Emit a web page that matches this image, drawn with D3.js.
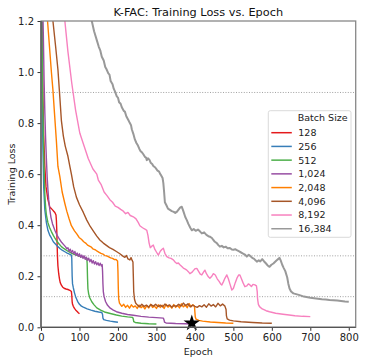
<!DOCTYPE html>
<html>
<head>
<meta charset="utf-8">
<script src="https://cdn.jsdelivr.net/npm/d3@7"></script>
<style>
  body { margin: 0; background: #fff; }
  svg { font-family: "DejaVu Sans", sans-serif; }
</style>
</head>
<body>
<svg width="366" height="363"></svg>
<script>
const batchLabels = ["128", "256", "512", "1,024", "2,048", "4,096", "8,192", "16,384"];
const xTicks = [0, 100, 200, 300, 400, 500, 600, 700, 800];
const yTicks = [0.0, 0.2, 0.4, 0.6, 0.8, 1.0, 1.2];
const targetLosses = [0.92, 0.28, 0.12];
const starPoint = [392, 0.016];

// [epoch, loss]
const loss128 = [[0,2.4],[1,1.6],[3,1.2],[5,0.9],[7,0.75],[10,0.63],[13,0.55],[18,0.5],[23,0.47],[27,0.465],[30,0.46],[33,0.455],[36,0.45],[39,0.44],[40,0.42],[41,0.38],[42,0.32],[43,0.27],[44,0.24],[46,0.21],[48,0.19],[50,0.175],[53,0.165],[56,0.158],[60,0.153],[65,0.15],[70,0.148],[75,0.145],[79,0.14],[80,0.125],[81,0.1],[82,0.09],[84,0.082],[87,0.074],[90,0.068],[94,0.062],[97,0.057],[100,0.053]];
const loss256 = [[0,2.4],[1,1.5],[2,1.15],[3,0.95],[4,0.8],[5,0.7],[7,0.55],[10,0.46],[14,0.41],[18,0.38],[23,0.36],[27,0.35],[32,0.335],[38,0.325],[44,0.316],[50,0.308],[56,0.301],[62,0.296],[68,0.291],[74,0.287],[79,0.283],[80,0.27],[81,0.2],[82,0.17],[84,0.155],[87,0.135],[90,0.12],[95,0.102],[100,0.09],[105,0.083],[110,0.079],[120,0.072],[130,0.067],[140,0.063],[150,0.06],[158,0.058],[160,0.05],[161,0.036],[163,0.03],[170,0.027],[180,0.024],[190,0.022],[200,0.02]];
const loss512 = [[0,2.4],[1,1.7],[2,1.3],[3,1.1],[4,0.95],[5,0.85],[6,0.76],[8,0.62],[10,0.52],[12,0.47],[14,0.44],[18,0.41],[22,0.392],[27,0.375],[32,0.36],[37,0.347],[42,0.336],[47,0.326],[53,0.316],[60,0.308],[70,0.298],[80,0.29],[90,0.284],[100,0.279],[110,0.274],[119,0.27],[120,0.25],[121,0.19],[122,0.15],[124,0.13],[127,0.115],[132,0.1],[138,0.088],[145,0.076],[155,0.067],[165,0.06],[180,0.054],[196,0.048],[210,0.044],[225,0.041],[238,0.039],[240,0.032],[241,0.022],[245,0.019],[260,0.016],[280,0.014],[300,0.013]];
const loss1024 = [[0,2.4],[2,1.6],[4,1.3],[6,1.15],[8,0.97],[10,0.84],[12,0.74],[14,0.66],[16,0.59],[18,0.54],[20,0.5],[23,0.46],[26,0.43],[30,0.405],[36,0.38],[42,0.36],[48,0.345],[54,0.332],[60,0.322],[64,0.315],[67,0.308],[70,0.312],[73,0.298],[76,0.306],[79,0.293],[82,0.301],[85,0.288],[88,0.297],[91,0.282],[94,0.291],[97,0.278],[100,0.288],[103,0.274],[106,0.283],[109,0.27],[112,0.28],[115,0.266],[118,0.275],[121,0.262],[124,0.271],[127,0.257],[130,0.266],[133,0.252],[136,0.261],[139,0.248],[142,0.257],[145,0.245],[148,0.253],[151,0.242],[154,0.251],[157,0.24],[159,0.246],[160,0.22],[161,0.17],[162,0.14],[164,0.12],[168,0.1],[173,0.086],[180,0.075],[188,0.067],[196,0.061],[210,0.055],[225,0.05],[240,0.047],[260,0.043],[280,0.04],[300,0.038],[318,0.036],[320,0.028],[321,0.02],[325,0.017],[350,0.015],[375,0.014],[395,0.013]];
const loss2048 = [[0,2.4],[5,1.9],[10,1.55],[14,1.35],[17,1.2],[22,1.1],[27,1.0],[31,0.93],[35,0.84],[40,0.73],[44,0.63],[49,0.59],[55,0.53],[62,0.485],[67,0.455],[73,0.425],[79,0.398],[87,0.378],[93,0.366],[99,0.352],[105,0.345],[111,0.335],[116,0.33],[121,0.322],[126,0.318],[131,0.314],[136,0.306],[141,0.304],[146,0.298],[151,0.294],[156,0.29],[161,0.287],[166,0.281],[171,0.28],[176,0.276],[181,0.272],[186,0.27],[191,0.265],[195,0.266],[199,0.26],[200,0.22],[201,0.15],[202,0.11],[204,0.095],[210,0.082],[215,0.09],[220,0.078],[225,0.086],[230,0.075],[235,0.088],[240,0.079],[245,0.084],[250,0.074],[255,0.087],[260,0.077],[265,0.083],[270,0.072],[275,0.085],[280,0.076],[285,0.09],[290,0.078],[295,0.083],[300,0.074],[305,0.088],[310,0.078],[315,0.086],[320,0.074],[325,0.09],[330,0.079],[335,0.085],[340,0.075],[345,0.089],[350,0.078],[355,0.086],[360,0.076],[365,0.092],[370,0.08],[375,0.087],[380,0.077],[385,0.093],[390,0.08],[395,0.088],[399,0.082],[400,0.06],[401,0.04],[403,0.032],[410,0.027],[420,0.024],[440,0.021],[460,0.019],[480,0.017],[500,0.016]];
const loss4096 = [[0,2.4],[10,1.8],[20,1.45],[27,1.3],[31,1.2],[38,1.1],[44,1.01],[49,0.9],[53,0.81],[58,0.75],[63,0.71],[70,0.67],[75,0.63],[79,0.6],[85,0.55],[92,0.51],[100,0.48],[110,0.45],[119,0.42],[128,0.395],[137,0.375],[145,0.357],[153,0.342],[162,0.33],[170,0.321],[178,0.312],[187,0.305],[197,0.296],[205,0.288],[212,0.28],[218,0.274],[222,0.281],[226,0.268],[231,0.264],[234,0.273],[237,0.262],[239,0.256],[240,0.2],[241,0.14],[243,0.11],[246,0.095],[250,0.088],[256,0.08],[262,0.09],[268,0.082],[274,0.087],[280,0.079],[286,0.089],[292,0.083],[298,0.09],[304,0.081],[310,0.087],[316,0.08],[322,0.091],[328,0.084],[334,0.088],[340,0.079],[346,0.086],[352,0.082],[358,0.09],[364,0.083],[370,0.095],[376,0.085],[382,0.092],[388,0.08],[394,0.087],[400,0.082],[406,0.078],[412,0.085],[418,0.08],[424,0.088],[430,0.079],[436,0.092],[442,0.083],[448,0.089],[454,0.08],[460,0.094],[466,0.084],[472,0.091],[478,0.083],[481,0.07],[482,0.045],[484,0.033],[490,0.028],[500,0.025],[520,0.022],[550,0.019],[575,0.017],[600,0.016]];
const loss8192 = [[0,2.6],[20,2.0],[40,1.5],[55,1.3],[62,1.2],[70,1.08],[80,0.956],[90,0.85],[101,0.76],[112,0.71],[123,0.66],[135,0.62],[145,0.6],[149,0.577],[156,0.56],[164,0.53],[172,0.515],[179,0.5],[186,0.49],[193,0.475],[200,0.47],[207,0.462],[214,0.455],[220,0.445],[226,0.45],[232,0.438],[240,0.433],[247,0.425],[253,0.41],[257,0.398],[264,0.39],[270,0.385],[275,0.38],[278,0.36],[281,0.33],[284,0.312],[288,0.318],[292,0.322],[296,0.305],[300,0.295],[305,0.283],[310,0.298],[314,0.305],[318,0.31],[322,0.29],[327,0.277],[333,0.272],[338,0.27],[344,0.264],[349,0.255],[353,0.25],[357,0.252],[361,0.245],[366,0.238],[370,0.232],[375,0.228],[379,0.224],[383,0.218],[387,0.21],[392,0.215],[396,0.222],[401,0.23],[405,0.231],[410,0.218],[414,0.208],[418,0.205],[422,0.215],[426,0.224],[430,0.21],[435,0.198],[439,0.192],[444,0.2],[448,0.21],[453,0.205],[458,0.19],[463,0.18],[467,0.17],[470,0.166],[474,0.178],[478,0.192],[483,0.205],[487,0.19],[491,0.17],[496,0.146],[500,0.152],[505,0.175],[510,0.195],[514,0.205],[517,0.205],[521,0.19],[525,0.175],[530,0.159],[535,0.162],[539,0.17],[543,0.166],[547,0.16],[551,0.168],[556,0.166],[560,0.162],[562,0.14],[563,0.11],[565,0.09],[568,0.081],[575,0.072],[585,0.065],[594,0.061],[610,0.055],[629,0.051],[645,0.048],[660,0.045],[680,0.043],[700,0.042]];
const loss16384 = [[0,2.9],[50,2.0],[100,1.45],[120,1.3],[132,1.2],[138,1.16],[145,1.125],[150,1.1],[154,1.085],[158,1.06],[163,1.045],[167,1.02],[170,1.012],[175,0.995],[178,0.99],[181,0.965],[186,0.952],[189,0.935],[192,0.925],[197,0.905],[200,0.9],[203,0.882],[207,0.876],[210,0.862],[215,0.848],[218,0.845],[222,0.826],[227,0.812],[231,0.8],[234,0.792],[236,0.776],[240,0.758],[244,0.736],[248,0.722],[252,0.712],[256,0.698],[259,0.69],[262,0.686],[266,0.678],[270,0.668],[273,0.665],[275,0.655],[278,0.662],[282,0.656],[285,0.645],[289,0.64],[292,0.632],[297,0.626],[300,0.62],[302,0.615],[307,0.61],[310,0.6],[312,0.596],[316,0.585],[318,0.565],[320,0.53],[322,0.49],[326,0.478],[330,0.465],[335,0.46],[340,0.455],[345,0.452],[349,0.448],[353,0.452],[358,0.462],[362,0.47],[366,0.472],[370,0.455],[375,0.432],[379,0.42],[383,0.405],[388,0.39],[392,0.38],[397,0.385],[402,0.378],[408,0.383],[413,0.376],[418,0.368],[424,0.372],[430,0.362],[435,0.357],[439,0.355],[444,0.35],[448,0.342],[452,0.335],[457,0.33],[461,0.322],[465,0.316],[470,0.319],[475,0.313],[480,0.316],[485,0.31],[491,0.311],[496,0.305],[500,0.304],[505,0.306],[509,0.302],[514,0.298],[519,0.294],[524,0.29],[530,0.285],[535,0.277],[540,0.284],[544,0.279],[549,0.272],[554,0.268],[558,0.262],[561,0.257],[566,0.263],[570,0.258],[575,0.267],[580,0.258],[585,0.25],[590,0.241],[594,0.237],[599,0.245],[604,0.25],[608,0.256],[612,0.262],[617,0.268],[620,0.272],[623,0.262],[627,0.245],[631,0.232],[635,0.22],[640,0.195],[643,0.17],[646,0.152],[650,0.14],[656,0.133],[663,0.13],[670,0.127],[680,0.122],[690,0.119],[700,0.116],[710,0.114],[720,0.112],[730,0.11],[740,0.109],[750,0.107],[760,0.106],[770,0.105],[780,0.103],[790,0.101],[800,0.1]];

const series = [loss128, loss256, loss512, loss1024, loss2048, loss4096, loss8192, loss16384];
const colors = d3.schemeSet1.filter(c => c !== "#ffff33");

const svg = d3.select("svg");
const plotLeft = 41, plotRight = 355.7, plotTop = 21, plotBottom = 327.3;

const x = d3.scaleLinear().domain([0, 818]).range([plotLeft, plotRight]);
const y = d3.scaleLinear().domain([0, 1.2]).range([plotBottom, plotTop]);

svg.append("clipPath").attr("id", "clip")
  .append("rect")
  .attr("x", plotLeft).attr("y", plotTop)
  .attr("width", plotRight - plotLeft).attr("height", plotBottom - plotTop);

// target loss guides
svg.append("g")
  .selectAll("line")
  .data(targetLosses)
  .join("line")
  .attr("x1", plotLeft).attr("x2", plotRight)
  .attr("y1", d => y(d)).attr("y2", d => y(d))
  .attr("stroke", "#8a8a8a")
  .attr("stroke-width", 0.8)
  .attr("stroke-dasharray", "1,1.6");

const line = d3.line().x(d => x(d[0])).y(d => y(d[1]));

svg.append("g")
  .attr("clip-path", "url(#clip)")
  .selectAll("path")
  .data(series)
  .join("path")
  .attr("fill", "none")
  .attr("stroke", (d, i) => colors[i])
  .attr("stroke-width", (d, i) => i === 7 ? 2 : 1.4)
  .attr("stroke-linejoin", "round")
  .attr("d", line);

svg.append("path")
  .attr("d", d3.symbol(d3.symbolStar, 85)())
  .attr("transform", `translate(${x(starPoint[0])},${y(starPoint[1])})`)
  .attr("fill", "#000");

// axes
const xAxis = d3.axisBottom(x).tickValues(xTicks).tickSize(3.5).tickPadding(3.5);
const yAxis = d3.axisLeft(y).tickValues(yTicks).tickFormat(d3.format(".1f")).tickSize(3.5).tickPadding(3.5);

const gx = svg.append("g").attr("transform", `translate(0,${plotBottom})`).call(xAxis);
const gy = svg.append("g").attr("transform", `translate(${plotLeft},0)`).call(yAxis);
[gx, gy].forEach(g => {
  g.select(".domain").remove();
  g.selectAll("text").attr("font-size", 10).attr("fill", "#222").attr("font-family", "DejaVu Sans");
  g.selectAll("line").attr("stroke", "#333");
});

// spines
svg.append("rect")
  .attr("x", plotLeft).attr("y", plotTop)
  .attr("width", plotRight - plotLeft).attr("height", plotBottom - plotTop)
  .attr("fill", "none").attr("stroke", "#888").attr("stroke-width", 1.3);
svg.append("line").attr("x1", plotLeft).attr("x2", plotLeft).attr("y1", plotTop).attr("y2", plotBottom)
  .attr("stroke", "#555").attr("stroke-width", 1.3);
svg.append("line").attr("x1", plotLeft).attr("x2", plotRight).attr("y1", plotBottom).attr("y2", plotBottom)
  .attr("stroke", "#555").attr("stroke-width", 1.3);

svg.append("text")
  .attr("x", (plotLeft + plotRight) / 2).attr("y", 16)
  .attr("text-anchor", "middle").attr("font-size", 11.3).attr("fill", "#111")
  .text("K-FAC: Training Loss vs. Epoch");

svg.append("text")
  .attr("x", (plotLeft + plotRight) / 2).attr("y", 355)
  .attr("text-anchor", "middle").attr("font-size", 9.5).attr("fill", "#222")
  .text("Epoch");

svg.append("text")
  .attr("transform", `translate(15,${(plotTop + plotBottom) / 2}) rotate(-90)`)
  .attr("text-anchor", "middle").attr("font-size", 9.5).attr("fill", "#222")
  .text("Training Loss");

// legend
const legend = svg.append("g").attr("transform", "translate(268.3,110.7)");
legend.append("rect")
  .attr("width", 82.7).attr("height", 126.6).attr("rx", 2)
  .attr("fill", "#fff").attr("fill-opacity", 0.8)
  .attr("stroke", "#d0d0d0").attr("stroke-width", 0.8);
legend.append("text")
  .attr("x", 54.4).attr("y", 10.6)
  .attr("text-anchor", "middle").attr("font-size", 9.5).attr("fill", "#222")
  .text("Batch Size");
const rows = legend.selectAll("g.row")
  .data(batchLabels)
  .join("g")
  .attr("class", "row")
  .attr("transform", (d, i) => `translate(0,${22 + i * 13.72})`);
rows.append("line")
  .attr("x1", 3).attr("x2", 23.5)
  .attr("stroke", (d, i) => colors[i]).attr("stroke-width", 1.5);
rows.append("text")
  .attr("x", 30).attr("y", 3.4)
  .attr("font-size", 9.5).attr("fill", "#222")
  .text(d => d);
</script>
</body>
</html>
